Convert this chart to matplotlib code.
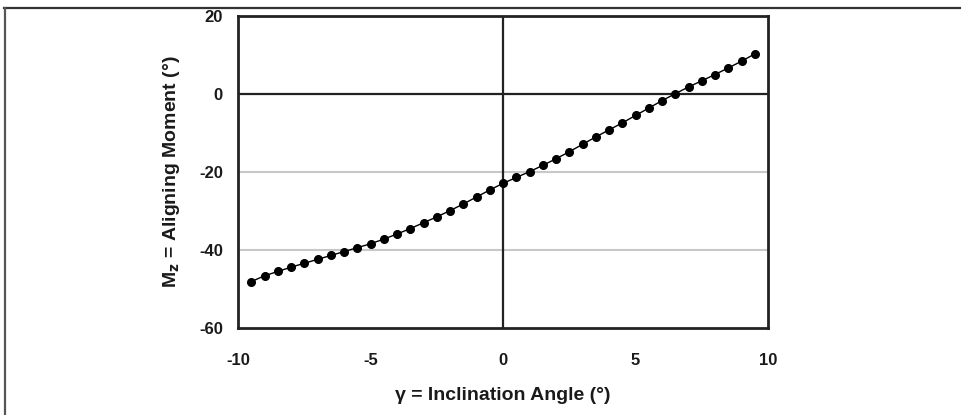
import matplotlib

matplotlib.use("Agg")
import matplotlib.pyplot as plt
from matplotlib.lines import Line2D

plt.rcParams["font.family"] = ["Liberation Sans", "DejaVu Sans"]
plt.rcParams["axes.unicode_minus"] = False

# inclination angle (deg) and aligning moment
gamma = [
    -9.5, -9.0, -8.5, -8.0, -7.5, -7.0, -6.5, -6.0, -5.5, -5.0,
    -4.5, -4.0, -3.5, -3.0, -2.5, -2.0, -1.5, -1.0, -0.5, 0.0,
    0.5, 1.0, 1.5, 2.0, 2.5, 3.0, 3.5, 4.0, 4.5, 5.0,
    5.5, 6.0, 6.5, 7.0, 7.5, 8.0, 8.5, 9.0, 9.5,
]
moment = [
    -48.1, -46.6, -45.5, -44.4, -43.4, -42.4, -41.4, -40.4, -39.4, -38.4,
    -37.2, -35.9, -34.5, -33.0, -31.5, -29.9, -28.2, -26.4, -24.6, -22.9,
    -21.4, -19.9, -18.3, -16.6, -14.8, -12.9, -11.0, -9.2, -7.4, -5.5,
    -3.6, -1.7, 0.1, 1.8, 3.4, 5.0, 6.7, 8.4, 10.3,
]
x_ticks = [-10, -5, 0, 5, 10]
y_ticks = [-60, -40, -20, 0, 20]

fig = plt.figure(figsize=(9.61, 4.15), dpi=100)
ax = fig.add_axes([0.2477, 0.2096, 0.5515, 0.7518])

for y in (-20, -40):
    ax.axhline(y, color="#c8c8c8", lw=1.5, zorder=1)
ax.axhline(0, color="#222222", lw=1.6, zorder=2)
ax.axvline(0, color="#222222", lw=1.6, zorder=2)

ax.plot(gamma, moment, color="black", lw=1.0, marker="o", ms=5.5, zorder=3)

ax.set_xlim(-10, 10)
ax.set_ylim(-60, 20)
ax.set_xticks(x_ticks)
ax.set_yticks(y_ticks)
ax.tick_params(length=0, labelsize=12, pad=11, labelcolor="#1a1a1a")
ax.tick_params(axis="x", pad=18)
for lab in ax.get_xticklabels() + ax.get_yticklabels():
    lab.set_fontweight("bold")
for sp in ax.spines.values():
    sp.set_linewidth(2.0)
    sp.set_color("#222222")

ax.set_xlabel("γ = Inclination Angle (°)", fontsize=14, fontweight="bold",
              labelpad=14, color="#1a1a1a")
ax.set_ylabel("M$_\\mathbf{z}$ = Aligning Moment (°)", fontsize=14,
              fontweight="bold", labelpad=12, color="#1a1a1a")

# page frame lines at top and left
fig.add_artist(Line2D([0.004, 1.0], [0.981, 0.981], color="#333333", lw=1.6,
                      transform=fig.transFigure))
fig.add_artist(Line2D([0.005, 0.005], [0.0, 0.981], color="#555555", lw=1.6,
                      transform=fig.transFigure))

fig.savefig("out.png", dpi=100)
